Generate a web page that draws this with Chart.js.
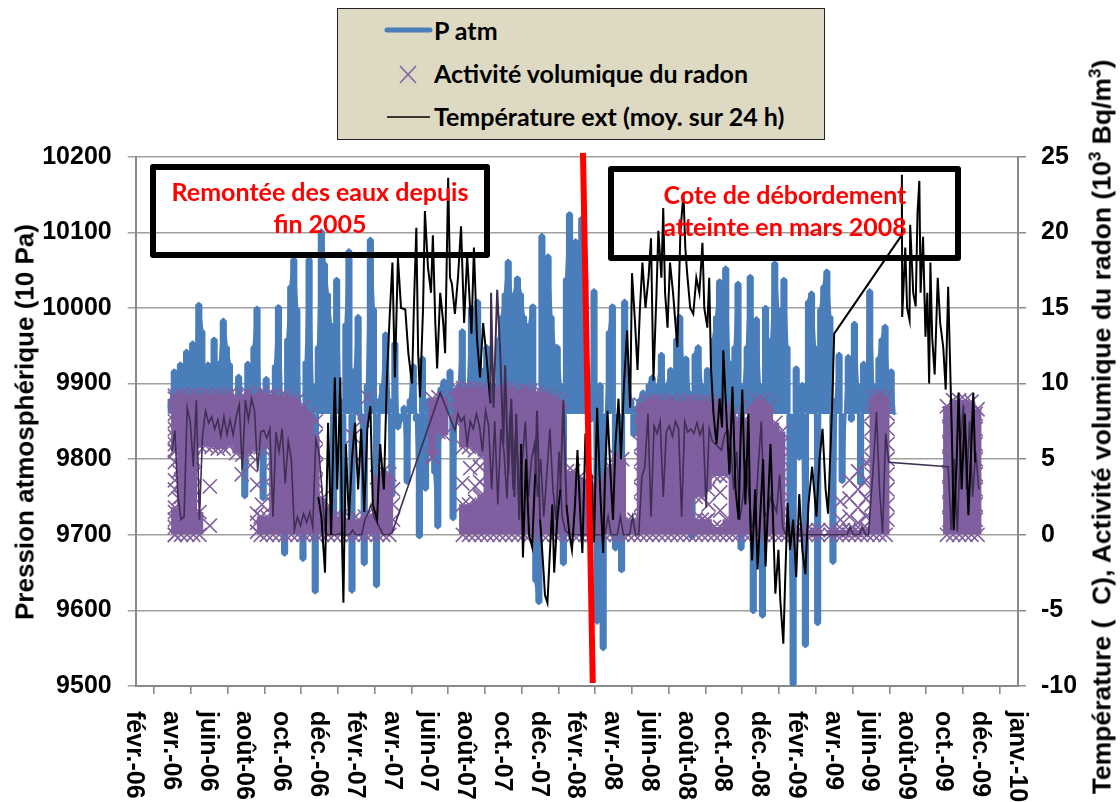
<!DOCTYPE html>
<html lang="fr"><head><meta charset="utf-8">
<script src="https://cdn.jsdelivr.net/npm/chart.js@4"></script>
<style>
html,body{margin:0;padding:0;background:#fff;overflow:hidden;width:1120px;height:802px}
#wrap{position:relative;width:1120px;height:802px;overflow:hidden}
canvas{position:absolute;left:0;top:0}
.t{position:absolute;white-space:nowrap;color:#000}
.ax{font:bold 26px "Liberation Sans",Arial,sans-serif}
.ax2{font:bold 26.5px "Liberation Sans",Arial,sans-serif}
.xl{font:bold 25px/25px "Liberation Sans",Arial,sans-serif;writing-mode:vertical-rl;top:711px}
.box{position:absolute;box-sizing:border-box;border:6px solid #000;border-radius:3px}
.red{position:absolute;color:#f00;font:bold 25px "Lato",sans-serif;text-align:center;white-space:nowrap;transform:translateX(-50%)}
#leg{position:absolute;left:337px;top:8px;width:488px;height:132px;box-sizing:border-box;background:#DDD9C3;border:1.5px solid #222}
.lg{position:absolute;left:434px;font:bold 25px "Lato",sans-serif;white-space:nowrap;color:#000}
sup{font-size:65%;line-height:0}
</style></head><body>
<div id="wrap">
<canvas id="c" width="1120" height="802"></canvas>
</div>
<script>
// Axis labels
const tickLabels=["févr.-06","avr.-06","juin-06","août-06","oct.-06","déc.-06","févr.-07","avr.-07","juin-07","août-07","oct.-07","déc.-07","févr.-08","avr.-08","juin-08","août-08","oct.-08","déc.-08","févr.-09","avr.-09","juin-09","août-09","oct.-09","déc.-09","janv.-10"];
// Atmospheric pressure (10 Pa), one reading every 5 days from day 58 after 1 Feb 2006
const pressureStart=58, pressureStep=5, pressureBase=9860;
const pressure=[9880,9918,9890,9927,9905,9944,9910,9955,9930,10006,
9971,9890,9927,9860,9960,9860,9930,9985,9950,9927,
9880,9850,9911,9830,9749,9928,9830,9950,10001,9860,
9746,9908,9850,9790,9925,10003,9880,9673,9960,10030,
10066,10000,9850,9666,9930,10066,9900,9623,9950,10103,
10060,10020,9980,9700,10039,9880,9720,9980,10077,9624,
9920,9990,9850,9660,9900,10092,10000,9631,9880,9900,
9967,9880,9750,9955,9840,9850,9870,9768,9880,9925,
9850,9696,9935,9759,9880,9860,9780,9709,9895,9905,
9880,9918,9720,9880,9900,9971,9850,9900,10002,9920,
10010,9920,9905,9950,9880,9900,9820,9960,9990,10020,
10063,10010,10020,10041,10020,9990,9960,9980,10004,9637,
9609,10097,10040,10070,9990,9950,9950,9900,9660,10040,
10126,10040,10090,10020,10120,10040,9900,9850,10024,9583,
9900,9548,9860,9970,10004,9680,9780,9651,10010,9900,
9880,9830,9870,9880,9890,9870,9900,9910,9880,9900,
9940,9890,9900,9920,9880,9960,9990,9920,9935,9890,
9695,9940,9950,9900,9880,9920,9900,9960,9990,10037,
9960,10054,9930,9900,9950,10034,9680,9900,9950,10043,
9597,9987,9900,9591,10002,9880,9960,10061,10000,9950,
10039,9950,9700,9500,9922,9800,9900,9552,10010,10021,
9950,9581,10000,10030,10050,9990,9662,9880,9940,9769,
9860,9937,9850,9981,9900,9766,9928,9880,10024,9900,
9850,9935,9960,9977,9900,9918,9860];
// Radon activity (10^3 Bq/m3): per 10-day column from day 64, the top of the cloud,
// the bottom of its upper part and the top of its lower part
const radonStart=64, radonStep=10;
const radonTop=[9.2,9.3,9.2,9.3,9.2,9.3,9.2,9.3,9.2,9.3,
9.1,9.2,9.3,9.2,9.4,9.2,9.3,9.1,9.2,9.0,
8.9,8.5,8.0,6.5,null,null,null,null,null,null,
null,null,null,null,null,null,null,null,null,null,
null,null,9.0,9.1,9.0,null,9.7,9.7,9.7,9.7,
9.7,9.6,9.5,9.6,9.7,9.6,9.5,9.6,9.5,9.4,
9.3,9.2,9.0,8.8,null,null,null,null,null,null,
null,null,null,null,null,null,8.6,8.8,8.9,8.9,
8.8,8.9,8.7,8.8,8.9,8.8,8.8,8.8,8.7,8.6,
8.5,8.0,7.6,7.6,8.5,8.9,8.9,8.5,7.4,6.8,
null,null,null,null,null,null,null,null,null,null,
null,null,null,null,9.1,9.2,9.1,null,null,null,
null,null,null,null,null,null,8.5,8.9,8.9,8.9,8.8,8.3];
const radonMid=[5.6,0,0,0,5.9,5.9,5.8,5.7,5.7,5.9,
5.4,5.3,5.4,5.6,5.8,5.8,0,0,0,0,
0,0,0,0,null,null,null,null,null,null,
null,null,null,null,null,null,null,null,null,null,
null,null,5.2,6.8,6.6,null,7.4,5.8,5.8,5.6,
5.2,0,0,0,0,0,0,0,0,0,
0,0,0,0,null,null,null,null,null,null,
null,null,null,null,null,null,0,0,0,0,
0,0,0,0,0,2.5,2.5,3,3.9,3.9,
3.9,0,0,0,0,0,0,0,0,0,
null,null,null,null,null,null,null,null,null,null,
null,null,null,null,0,0,0,null,null,null,
null,null,null,null,null,null,0,0,0,0,0,0];
const radonLow=[1.8,null,null,null,1.5,null,null,null,null,null,
null,null,null,null,1.2,1.2,null,null,null,null,
null,null,null,null,2.4,1.8,1.2,1.2,1.0,1.0,
1.0,1.2,1.3,3.8,4.2,4.0,null,null,null,null,
null,null,null,null,null,null,null,2.0,2.0,2.2,
2.6,null,null,null,null,null,null,null,null,null,
null,null,null,null,4.2,4.2,3.8,3.5,3.2,3.5,
3.6,4.5,5.2,5.0,1.0,1.0,null,null,null,null,
null,null,null,null,null,1.0,1.0,1.0,0.5,0.5,
1.0,null,null,null,null,null,null,null,null,null,
0.3,0.3,0.3,0.3,0.3,0.3,null,0.3,0.3,0.3,
0.3,0.3,0.3,0.4,null,null,null,null,null,null,
null,null,null,null,null,null,null,null,null,null,null,null];
// Radon readings standing apart from the cloud or on its edges
const radonLoneDays=[64,64,64,64,64,64,64,64,64,64,64,64,64,64,64,70,70,74,74,74,94,94,94,94,113,121,121,173,187,198,198,198,198,206,
225,225,225,225,294,294,294,294,294,294,355,363,370,379,420,420,420,485,525,525,533,541,546,549,554,562,562,562,
574,574,574,574,574,574,574,574,825,825,825,825,825,825,825,825,930,935,954,954,1054,1054,1054,1054,1054,1054,
1150,1150,1165,1165,1165,1179,1179,1179,1179,1192,1192,1192,1192,
1201,1201,1201,1201,1201,1201,1201,1201,1227,1227,1227,1227,1227,1227,1227,1227,
1328,1328,1328,1328,1328,1328,1328,1328,1371,1371,1371,1371,1371,1371,1371,1371];
const radonLoneVals=[9,8.5,8,7.5,7,6.5,6,5.5,1.5,1,0.5,0,4.8,3.6,3.0,4.2,2.4,4.5,3.5,2.5,5,4,3,2.5,6.2,3.2,0.6,4.0,4.6,3.3,1.4,0.8,0.2,2,
5,4,3,2,7.5,5.5,4.5,3.5,2.5,1.5,6.5,5.0,7.6,9.1,3,2,1,5.1,8.8,8.2,3.4,1.2,4.4,0.2,3.2,2.5,3.5,4.5,
8,7,6,5,4,3,2,1,8,7,6,5,4,3,2,1,0.9,2.0,2.8,1.6,6,5,4,3,2,1,
2.2,1.0,3.6,2.4,1.2,4.2,3,1.8,0.8,4.8,3.6,2.4,1.2,
8,7,6,5,4,3,2,1,8,7,6,5,4,3,2,1,
8,7,6,5,4,3,2,1,8,7,6,5,4,3,2,1];
// Thin dark radon trace, stretches at 5-day spacing
const radonLineA=[5.5,6.9,2.5,1.0,1.2,8.4,7.5,4.5,8.9,1.0,6.5,8.2,7.4,7.8,7.0,7.6,6.5,7.8,6.6,7.6,6.6,7.8,8.6,4.3,8.9,7.6,9.0,8.2,4.2,6.8,6.9,6.4,7.0,1.2,6.8,5.5,7.0,3.4,6.2,5.0,0.3,1.2,0.6,1.4,0.8,1.5,0.5,6.3,5.5,3,0.2];
const radonLineB=[0,0,0,0,0.1,0,0,0,0.3,0,0,0,1.0,1.4,2.0,1.2,0.8,0.4,0,0,0,0.2];
const radonLineC=[9.4,6.9];
const radonLineD=[8,7.5,7.8,6,7.5,7.0,8.0,7.2,5.5,8.2,7.2,3.0,7.5,2.0,7.0,5.5,2.4,8,3,7.5,1.5,5,7.5,2.5,5,6,2.5,5,1.2,4,7,3,1,5.5,1.2,0.3];
const radonLineE=[0.1,0,0,0,0,0,0,0,0,0,0,0,0.1,1.2,0,0,0,1.2,0,0,0,1.2,0,0,3.8,4.5,8.0,1.2,7.2,6.7,7.5,2.5,6.8,7.2,6.5,7.5,7.0,1.2,7.5,6.8,7.0,6.7,7.4,6.6,7.2,1.8,7,6.2,6,5.8,5.6,6.6,7,6,3,5.5,1,2.5,5,2.5,0.5,0.8,4.5,7.5,1.5,1.2,2.5,2,1.5,4,0.5,0];
const radonLineF=[0,0,0,0,0,0,0,0,0,0,0,0,0,0,0,0,0,0,0,0,0.5,0,0,0,0.5,0,0];
const radonLineG=[4.7,8.1,3,0.1,6.7,4.8];
const radonLineH=[4.5,0.3,5,0.2,6,8.6,3,7.5,2.5,5.5,3];
// Outdoor temperature (°C, 24 h mean)
const tempDays=[298,303,309,314,319,325,329,334,337,339,343,348,353,358,363,368,373,378,383,387,394,399,405,410,414,419,423,428,433,440,445,451,454,458,461,464,469,472,477,482,485,489,492,497,502,505,510,513,516,521,526,531,536,541,548,552,557,562,567,572,579,580,584,590,595,600,603,608,613,618,621,626,629,632,637,642,647,652,655,660,665,668,672,675,680,683,688,693,698,703,708,712,717,721,726,729,734,739,744,748,753,758,763,766,770,775,779,783,788,792,797,802,807,810,815,819,823,827,832,837,841,845,850,853,858,861,864,868,872,877,884,889,894,897,900,905,910,915,920,925,928,933,936,939,943,948,953,957,959,964,969,974,979,984,987,990,995,1000,1003,1006,1011,1015,1019,1024,1028,1033,1036,1041,1044,1049,1052,1057,1060,1064,1068,1073,1078,1083,1088,1093,1098,1104,1111,1116,1121,1126,1130,1137,1140,1250,1250.5,1251,1256,1259,1263,1264,1269,1273,1276,1279,1281,1285,1289,1292,1295,1297,1300,1304,1309,1313,1318,1322,1326,1330,1333,1335,1340,1343,1348,1353,1356,1359,1364,1367,1370];
const tempVals=[2.5,1.2,-2.5,7.4,0,10.4,3,10.4,-1,-4.5,6,1,5,7.4,3,7,1.5,7,8.5,2,1,6,3,10.4,14,18,10.4,18.3,15,14.9,12,10,15,20.3,12,9.1,15,21.4,17.7,16,19.8,14,11,16,14,12,23.6,17,16.6,14.6,17,20.4,14,18.5,13.3,19,13,10.4,14,12,8.7,16,8.4,16.2,12,6,11.2,4,9,2.5,8,1,6,-1.5,5,0,-0.8,4,8.2,1,-2,-4,-4.5,-2,2,-2.5,1,3,8.9,2,0,-1,2,5.6,1,-1.2,6.7,2,4,-0.5,8.4,3,-1.2,4,8.2,4,1,6,9,5,10,13.5,8.4,17.3,14,10.9,15,18,15,17,19.6,10.2,16,20.1,17,21.6,16,13.7,18,16,12.4,20,22.6,19,17.3,15,14.6,17,16,19.3,15,13.7,17,11,8,6,9,7.1,12.2,8,4,9.8,3,1,6,9.6,2,8,1,-1.7,3,-2.3,1,5,-2.1,3,6,0,-3.9,-1,-4.3,-7.2,-3,2.1,-1,1,-2.8,2.7,-1,-2.6,2,4.5,1.2,5,7,3,1.4,8.9,13.3,19.8,23.8,14.4,19,15,14.2,20.5,16,15.1,21.3,23.4,16,19.7,13.1,16,10,18,13,10.6,17,14,12.4,9.6,16.4,10,5,0.3,5,9.4,3,8,5,1.3,6,9.4,4.8];
// Red marker line, March 2008
const markerDays=[730,746];
const markerPressure=[10205,9504];

const BLUE='#4A7EBB',PURPLE='#7F5F9F',DARK='#3F2F55',GRID='#A0A0A0',AXIS='#8A8A8A';
const stepped=(start,step,vals)=>vals.map((v,i)=>({x:start+i*step,y:v}));
const pressurePts=stepped(pressureStart,pressureStep,pressure);
const pressureBars=pressurePts.map(p=>({x:p.x,y:[Math.min(p.y,pressureBase),Math.max(p.y,pressureBase)]}));
const radonDays=radonTop.map((_,i)=>radonStart+i*radonStep);
const upperBand=[],lowerBand=[],radonPts=[];
radonDays.forEach((d,i)=>{
  if(radonTop[i]!==null){upperBand.push({x:d,y:[radonMid[i],radonTop[i]]});radonPts.push({x:d,y:radonTop[i]},{x:d,y:radonMid[i]});}
  if(radonLow[i]!==null){lowerBand.push({x:d,y:[0,radonLow[i]]});radonPts.push({x:d,y:radonLow[i]},{x:d,y:0});}
});
radonLoneDays.forEach((d,i)=>radonPts.push({x:d,y:radonLoneVals[i]}));
const radonLinePts=[].concat(
  stepped(59,5,radonLineA),stepped(314,5,radonLineB),
  [{x:497,y:radonLineC[0]},{x:521,y:radonLineC[1]}],
  stepped(526,5,radonLineD),stepped(706,5,radonLineE),stepped(1066,5,radonLineF),
  stepped(1204,5,radonLineG),stepped(1326,5,radonLineH));
const tempPts=tempDays.map((d,i)=>({x:d,y:tempVals[i]}));
const markerPts=markerDays.map((d,i)=>({x:d,y:markerPressure[i]}));

const tickFont={family:'"Liberation Sans",Arial,sans-serif',weight:'bold',size:25};
const chart=new Chart(document.getElementById('c'),{
 type:'scatter',
 data:{datasets:[
  {type:'line',label:'P atm',data:pressurePts,yAxisID:'y',borderColor:BLUE,borderWidth:3,borderCapStyle:'round',borderJoinStyle:'round',pointRadius:0,tension:0,fill:false,order:7},
  {type:'bar',label:'P atm (plage)',data:pressureBars,yAxisID:'y',backgroundColor:BLUE,barThickness:6.5,borderRadius:3,borderSkipped:false,grouped:false,order:6},
  {type:'bar',label:'radon haut',data:upperBand,yAxisID:'y1',backgroundColor:PURPLE,barThickness:7,grouped:false,order:5},
  {type:'bar',label:'radon bas',data:lowerBand,yAxisID:'y1',backgroundColor:PURPLE,barThickness:7,grouped:false,order:5},
  {type:'scatter',label:'Activité volumique du radon',data:radonPts,yAxisID:'y1',pointStyle:'crossRot',pointRadius:10,pointBorderWidth:1.6,borderColor:PURPLE,pointBorderColor:PURPLE,backgroundColor:PURPLE,showLine:false,order:4},
  {type:'line',label:'Radon (trace)',data:radonLinePts,yAxisID:'y1',borderColor:DARK,borderWidth:1.6,pointRadius:0,tension:0,fill:false,order:3},
  {type:'line',label:'Température ext (moy. sur 24 h)',data:tempPts,yAxisID:'y1',borderColor:'#000',borderWidth:2,pointRadius:0,tension:0,fill:false,order:2,
   segment:{borderColor:c=>{const m=(c.p0.parsed.y+c.p1.parsed.y)/2,d=c.p0.parsed.x;return (d>574&&d<700&&m>2.7)?DARK:'#000';}}},
  {type:'line',label:'Mars 2008',data:markerPts,yAxisID:'y',borderColor:'#FF0000',borderWidth:6,pointRadius:0,tension:0,fill:false,clip:false,order:1}
 ]},
 options:{
  responsive:false,animation:false,events:[],
  layout:{padding:{top:156.7,left:0,right:0,bottom:0}},
  plugins:{legend:{display:false},tooltip:{enabled:false},title:{display:false}},
  scales:{
   x:{type:'linear',position:'bottom',min:0,max:1440,offset:false,
      afterFit:s=>{s.height=116;},
      ticks:{stepSize:60,display:false},
      grid:{drawOnChartArea:false,drawTicks:true,tickLength:8,color:AXIS,lineWidth:1.6},
      border:{color:AXIS,width:2}},
   y:{type:'linear',position:'left',min:9500,max:10200,
      afterFit:s=>{s.width=135.7;},
      ticks:{stepSize:100,color:'#000',callback:v=>String(v),font:tickFont,padding:16},
      grid:{color:GRID,lineWidth:1.5,tickLength:8},
      border:{color:AXIS,width:2}},
   y1:{type:'linear',position:'right',min:-10,max:25,
      afterFit:s=>{s.width=102;},
      ticks:{stepSize:5,color:'#000',font:tickFont,padding:15},
      grid:{drawOnChartArea:false,tickLength:8,color:AXIS,lineWidth:1.5},
      border:{color:AXIS,width:2}}
  }
 }
});

// Overlays: rotated axis texts, annotation boxes, legend
const wrap=document.getElementById('wrap');
function add(cls,html,css){const e=document.createElement('div');e.className=cls;e.innerHTML=html;Object.assign(e.style,css);wrap.appendChild(e);return e;}
tickLabels.forEach((t,i)=>{
  const px=chart.scales.x.getPixelForValue(i*60);
  add('t xl',t,{left:(px-12.5)+'px'});
});
add('t ax','Pression atmosphérique (10 Pa)',{left:'25px',top:'422px',transform:'translate(-50%,-50%) rotate(-90deg)'});
add('t ax2','Température (&nbsp;&nbsp;C), Activité volumique du radon (10<sup>3</sup> Bq/m<sup>3</sup>)',{left:'1102px',top:'427px',transform:'translate(-50%,-50%) rotate(-90deg)'});
add('box','',{left:'150px',top:'164px',width:'340px',height:'94px'});
add('box','',{left:'608px',top:'166px',width:'353px',height:'95px'});
add('red','Remontée des eaux depuis',{left:'320px',top:'176px'});
add('red','fin 2005',{left:'320px',top:'208px'});
add('red','Cote de débordement',{left:'785px',top:'179px'});
add('red','atteinte en mars 2008',{left:'785px',top:'211px'});
add('','',{}).id='leg';
add('lg','P atm',{top:'15px'});
add('lg','Activité volumique du radon',{top:'58px'});
add('lg','Température ext (moy. sur 24 h)',{top:'101px'});
add('','<svg width="1120" height="150" style="position:absolute;left:0;top:0"><line x1="387" y1="30" x2="430" y2="30" stroke="'+BLUE+'" stroke-width="5" stroke-linecap="round"/><line x1="400" y1="66" x2="416" y2="83" stroke="'+PURPLE+'" stroke-width="1.5"/><line x1="416" y1="66" x2="400" y2="83" stroke="'+PURPLE+'" stroke-width="1.5"/><line x1="387" y1="117" x2="430" y2="117" stroke="#000" stroke-width="1.5"/></svg>',{});
</script>
</body></html>
